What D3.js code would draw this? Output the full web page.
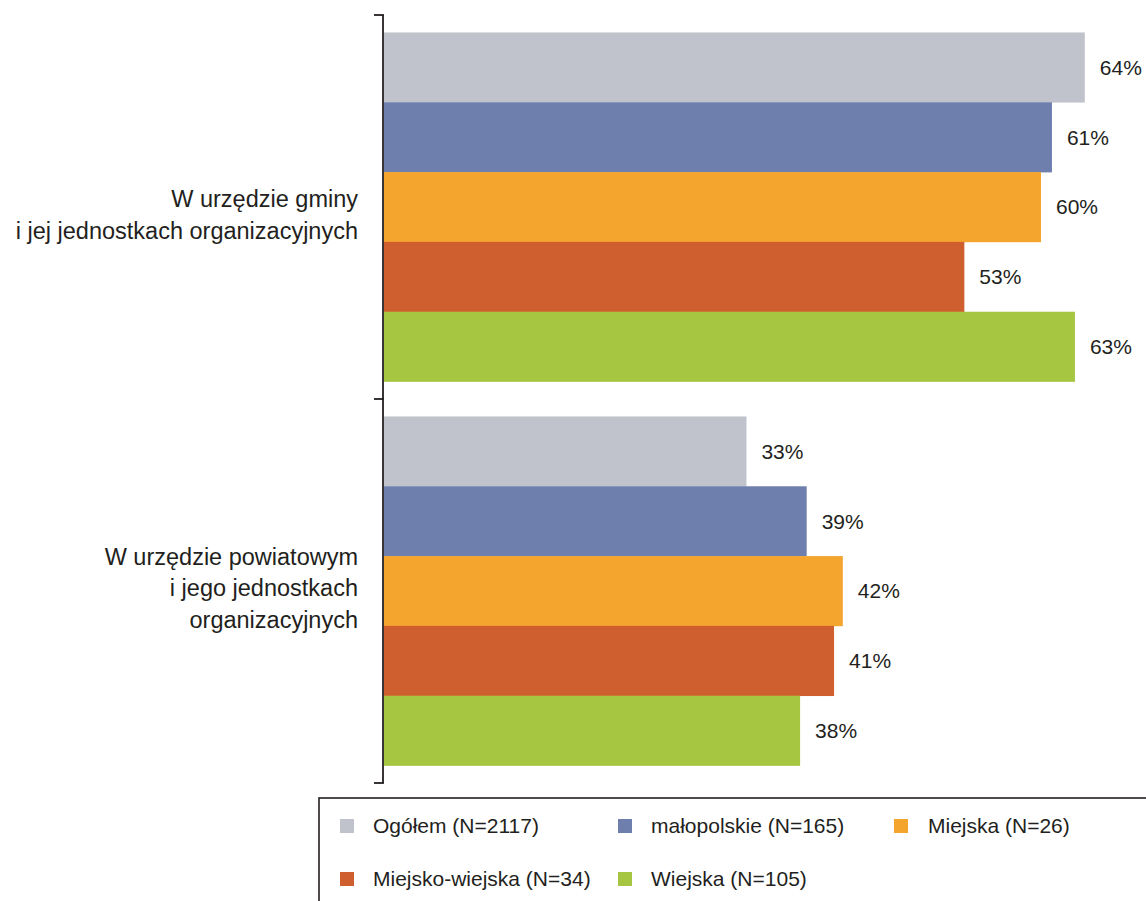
<!DOCTYPE html>
<html lang="pl">
<head>
	<meta charset="UTF-8">
	<title>bar chart</title>
	<script src="https://d3js.org/d3.v7.min.js"></script>
	<style>
		body { margin: 0; background: #fff; }
		text { font-family: "Liberation Sans", Arial, sans-serif; fill: #231f20; }
	</style>
</head>
<body>
	<script type="text/javascript">
		// data
		var categories = [
			["W urzędzie gminy", "i jej jednostkach organizacyjnych"],
			["W urzędzie powiatowym", "i jego jednostkach", "organizacyjnych"]
		];
		var series = ["Ogółem (N=2117)", "małopolskie (N=165)", "Miejska (N=26)", "Miejsko-wiejska (N=34)", "Wiejska (N=105)"];
		var gminaValues = [64.0, 61.0, 60.0, 53.0, 63.1];
		var powiatValues = [33.1, 38.6, 41.9, 41.1, 38.0];
		var colors = ["#c0c3cb", "#6e7ead", "#f4a52d", "#cf5f2e", "#a6c641"];

		var values = [gminaValues, powiatValues];

		var w = 1146;
		var h = 901;

		var svg = d3.select("body").append("svg").attr("width", w).attr("height", h);

		var axisX = 383;
		var xScale = d3.scaleLinear().domain([0, 100]).range([axisX + 1, axisX + 1 + 1095]);
		var yGroup = d3.scaleBand().domain(d3.range(categories.length)).range([15, 783]).padding(0);
		var yBar = d3.scaleBand().domain(d3.range(series.length)).range([0, yGroup.bandwidth()]).paddingInner(0).paddingOuter(0.25);

		var groups = svg.selectAll("g.group")
			.data(values)
			.enter()
			.append("g")
			.attr("class", "group")
			.attr("transform", function(d, i){ return "translate(0," + yGroup(i) + ")"; });

		// bars
		groups.selectAll("rect")
			.data(function(d){ return d; })
			.enter()
			.append("rect")
			.attr("x", xScale(0))
			.attr("y", function(d, i){ return yBar(i); })
			.attr("width", function(d){ return xScale(d) - xScale(0); })
			.attr("height", yBar.bandwidth() + 0.3)
			.attr("fill", function(d, i){ return colors[i]; });

		// value labels
		groups.selectAll("text.val")
			.data(function(d){ return d; })
			.enter()
			.append("text")
			.attr("class", "val")
			.text(function(d){ return Math.round(d) + "%"; })
			.attr("x", function(d){ return xScale(d) + 15; })
			.attr("y", function(d, i){ return yBar(i) + yBar.bandwidth() / 2; })
			.attr("dy", "0.35em")
			.attr("font-size", "21px");

		// category labels
		var lineH = 31.5;
		var labelShift = [8, -3];
		svg.selectAll("text.cat")
			.data(categories)
			.enter()
			.append("text")
			.attr("class", "cat")
			.attr("text-anchor", "end")
			.attr("font-size", "23.5px")
			.attr("y", function(d, i){ return yGroup(i) + yGroup.bandwidth() / 2 - (d.length - 1) * lineH / 2 + labelShift[i]; })
			.each(function(d){
				var t = d3.select(this);
				d.forEach(function(line, j){
					t.append("tspan").attr("x", 358).attr("dy", j === 0 ? "0.35em" : lineH).text(line);
				});
			});

		// axis line with ticks
		svg.append("line")
			.attr("x1", axisX).attr("x2", axisX)
			.attr("y1", yGroup.range()[0]).attr("y2", yGroup.range()[1])
			.attr("stroke", "#231f20").attr("stroke-width", 1.8);
		svg.selectAll("line.tick")
			.data([yGroup.range()[0]].concat(d3.range(1, categories.length).map(function(i){ return yGroup(i); })).concat([yGroup.range()[1]]))
			.enter()
			.append("line")
			.attr("class", "tick")
			.attr("x1", axisX - 9).attr("x2", axisX + 0.9)
			.attr("y1", function(d){ return d; }).attr("y2", function(d){ return d; })
			.attr("stroke", "#231f20").attr("stroke-width", 1.8);

		// legend
		svg.append("rect")
			.attr("x", 319).attr("y", 798)
			.attr("width", 900).attr("height", 200)
			.attr("fill", "none").attr("stroke", "#231f20").attr("stroke-width", 1.6);

		var legendCols = [340, 618, 894];
		var legendRows = [826, 879];
		var legend = svg.selectAll("g.legend")
			.data(series)
			.enter()
			.append("g")
			.attr("class", "legend")
			.attr("transform", function(d, i){
				return "translate(" + legendCols[i % 3] + "," + legendRows[Math.floor(i / 3)] + ")";
			});
		legend.append("rect")
			.attr("x", 0).attr("y", -7)
			.attr("width", 14).attr("height", 14)
			.attr("fill", function(d, i){ return colors[i]; });
		legend.append("text")
			.attr("x", function(d, i){ return i % 3 === 2 ? 34 : 33; })
			.attr("y", 0)
			.attr("dy", "0.35em")
			.attr("font-size", "21px")
			.text(function(d){ return d; });
	</script>
</body>
</html>
